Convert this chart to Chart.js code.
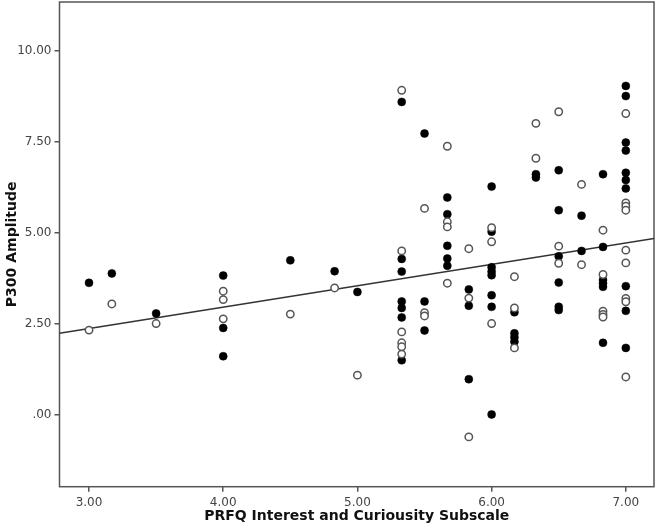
<!DOCTYPE html>
<html>
<head>
<meta charset="utf-8">
<script src="https://cdn.jsdelivr.net/npm/chart.js@4/dist/chart.umd.min.js"></script>
<style>
  html, body { margin: 0; padding: 0; background: #fff; }
  #wrap { width: 658px; height: 529px; }
</style>
</head>
<body>
<div id="wrap"><canvas id="c"></canvas></div>
<script>
// ---- data ----
const filledX = [
  3.00, 3.17, 3.50,
  4.00, 4.00, 4.00,
  4.50, 4.83, 5.00,
  5.33, 5.33, 5.33, 5.33, 5.33, 5.33, 5.33,
  5.50, 5.50, 5.50,
  5.67, 5.67, 5.67, 5.67, 5.67,
  5.83, 5.83, 5.83,
  6.00, 6.00, 6.00, 6.00, 6.00, 6.00, 6.00, 6.00,
  6.17, 6.17, 6.17, 6.17,
  6.33, 6.33,
  6.50, 6.50, 6.50, 6.50, 6.50, 6.50,
  6.67, 6.67,
  6.83, 6.83, 6.83, 6.83, 6.83, 6.83,
  7.00, 7.00, 7.00, 7.00, 7.00, 7.00, 7.00, 7.00, 7.00, 7.00
];
const filledY = [
  3.62, 3.88, 2.78,
  3.82, 2.38, 1.60,
  4.24, 3.94, 3.37,
  8.60, 4.28, 3.93, 3.11, 2.93, 2.67, 1.49,
  7.73, 3.11, 2.31,
  5.97, 5.51, 4.64, 4.29, 4.09,
  3.44, 2.99, 0.97,
  6.27, 5.03, 4.05, 3.93, 3.83, 3.28, 2.96, 0.00,
  2.81, 2.23, 2.12, 2.00,
  6.61, 6.52,
  6.72, 5.62, 4.35, 3.63, 2.96, 2.87,
  5.47, 4.50,
  6.61, 4.61, 3.70, 3.61, 3.51, 1.97,
  9.04, 8.76, 7.48, 7.26, 6.65, 6.45, 6.22, 3.53, 2.85, 1.83
];
const openX = [
  3.00, 3.17, 3.50,
  4.00, 4.00, 4.00,
  4.50, 4.83, 5.00,
  5.33, 5.33, 5.33, 5.33, 5.33, 5.33,
  5.50, 5.50, 5.50,
  5.67, 5.67, 5.67, 5.67,
  5.83, 5.83, 5.83,
  6.00, 6.00, 6.00,
  6.17, 6.17, 6.17,
  6.33, 6.33,
  6.50, 6.50, 6.50,
  6.67, 6.67,
  6.83, 6.83, 6.83, 6.83, 6.83,
  7.00, 7.00, 7.00, 7.00, 7.00, 7.00, 7.00, 7.00, 7.00
];
const openY = [
  2.32, 3.04, 2.50,
  3.39, 3.16, 2.63,
  2.76, 3.48, 1.08,
  8.92, 4.50, 2.27, 1.97, 1.86, 1.66,
  5.67, 2.80, 2.71,
  7.38, 5.30, 5.16, 3.61,
  4.56, 3.20, -0.62,
  5.14, 4.75, 2.50,
  3.79, 2.93, 1.83,
  8.01, 7.05,
  8.33, 4.63, 4.16,
  6.33, 4.12,
  5.07, 3.85, 2.84, 2.75, 2.68,
  8.28, 5.82, 5.73, 5.62, 4.52, 4.17, 3.19, 3.10, 1.03
];
const xTicks = [3, 4, 5, 6, 7];
const yTicks = [0, 2.5, 5, 7.5, 10];
const xRange = [2.78, 7.21];
const yRange = [-1.99, 11.35];
const fitIntercept = 0.593;
const fitSlope = 0.589;
const xTitle = 'PRFQ Interest and Curiousity Subscale';
const yTitle = 'P300 Amplitude';

// ---- build datasets ----
const toPts = (xs, ys) => xs.map((x, i) => ({ x: x, y: ys[i] }));
const fitPts = xRange.map(x => ({ x: x, y: fitIntercept + fitSlope * x }));
const fmt = v => (v === 0 ? '.00' : Number(v).toFixed(2));

const frame = {
  id: 'frame',
  beforeDatasetsDraw(chart) {
    const a = chart.chartArea, ctx = chart.ctx;
    ctx.save();
    ctx.strokeStyle = '#555';
    ctx.lineWidth = 1.5;
    ctx.strokeRect(a.left, a.top, a.right - a.left, a.bottom - a.top);
    ctx.restore();
  }
};

new Chart(document.getElementById('c'), {
  type: 'scatter',
  data: {
    datasets: [
      {
        type: 'line', data: fitPts, borderColor: '#333', borderWidth: 1.5,
        pointRadius: 0, fill: false, order: 3
      },
      {
        data: toPts(filledX, filledY), backgroundColor: '#000', borderColor: '#000',
        borderWidth: 0.5, pointRadius: 4, order: 2
      },
      {
        data: toPts(openX, openY), backgroundColor: '#fff', borderColor: '#555',
        borderWidth: 1.5, pointRadius: 3.7, order: 1
      }
    ]
  },
  options: {
    responsive: true,
    maintainAspectRatio: false,
    animation: false,
    layout: { autoPadding: false, padding: { top: 2, right: 4, left: 0, bottom: 0 } },
    plugins: { legend: { display: false }, tooltip: { enabled: false } },
    scales: {
      x: {
        type: 'linear', min: xRange[0], max: xRange[1],
        afterBuildTicks: s => { s.ticks = xTicks.map(v => ({ value: v })); },
        afterFit: s => { s.height = 42.3; s.paddingLeft = 0; s.paddingRight = 0; },
        border: { display: false },
        grid: { drawOnChartArea: false, drawTicks: true, tickLength: 5, color: '#555', lineWidth: 1.5 },
        ticks: { padding: 4, color: '#444', font: { family: 'DejaVu Sans', size: 12 }, callback: fmt, maxRotation: 0 },
        title: { display: true, text: xTitle, color: '#111', padding: { top: 0, bottom: 4 },
                 font: { family: 'DejaVu Sans', size: 14, weight: 'bold' } }
      },
      y: {
        type: 'linear', min: yRange[0], max: yRange[1],
        afterBuildTicks: s => { s.ticks = yTicks.map(v => ({ value: v })); },
        afterFit: s => { s.width = 59.5; s.paddingTop = 0; s.paddingBottom = 0; },
        border: { display: false },
        grid: { drawOnChartArea: false, drawTicks: true, tickLength: 5, color: '#555', lineWidth: 1.5 },
        ticks: { padding: 3, color: '#444', font: { family: 'DejaVu Sans', size: 12 }, callback: fmt },
        title: { display: true, text: yTitle, color: '#111', padding: { top: 4, bottom: 0 },
                 font: { family: 'DejaVu Sans', size: 14, weight: 'bold' } }
      }
    }
  },
  plugins: [frame]
});
</script>
</body>
</html>
